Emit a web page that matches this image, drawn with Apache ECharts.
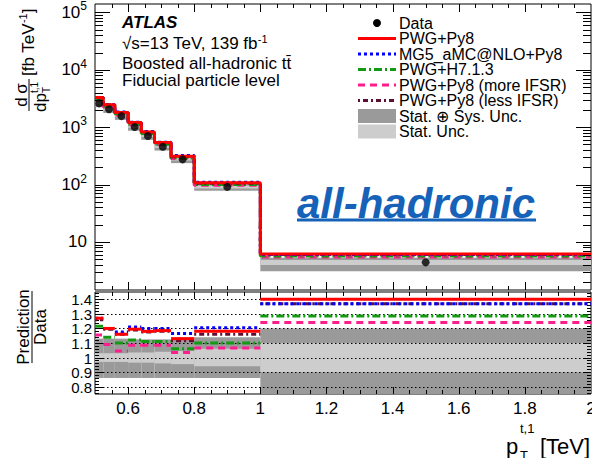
<!DOCTYPE html>
<html><head><meta charset="utf-8">
<script src="https://cdn.jsdelivr.net/npm/echarts@6/dist/echarts.min.js"></script>
<style>html,body{margin:0;padding:0;background:#fff}#c{width:592px;height:458px}</style>
</head><body><div id="c"></div>
<script>
// ---------------- data ----------------
const binEdges = [0.5, 0.525, 0.56, 0.6, 0.64, 0.68, 0.73, 0.8, 1.0, 2.0];
const dataValues = [2600, 2060, 1560, 1010, 700, 455, 275, 91, 4.4];
const ratioPWGPy8   = [1.27, 1.20, 1.16, 1.195, 1.18, 1.185, 1.13, 1.18, 1.40];
const ratioMG5      = [1.27, 1.20, 1.175, 1.21, 1.20, 1.20, 1.165, 1.205, 1.37];
const ratioPWGH7    = [1.215, 1.14, 1.10, 1.12, 1.11, 1.11, 1.06, 1.10, 1.285];
const ratioMoreIFSR = [1.155, 1.09, 1.045, 1.085, 1.085, 1.085, 1.035, 1.065, 1.24];
const ratioLessIFSR = [1.26, 1.195, 1.16, 1.19, 1.175, 1.18, 1.115, 1.16, 1.37];
const totUncUp   = [0.13, 0.13, 0.13, 0.125, 0.125, 0.125, 0.125, 0.14, 0.20];
const totUncDown = [0.14, 0.14, 0.14, 0.14, 0.14, 0.14, 0.14, 0.14, 0.30];
const statUnc    = [0.03, 0.03, 0.03, 0.035, 0.035, 0.04, 0.045, 0.06, 0.10];
const xTickValues = [0.6, 0.8, 1.0, 1.2, 1.4, 1.6, 1.8, 2.0];
const xTickLabels = ['0.6', '0.8', '1', '1.2', '1.4', '1.6', '1.8', '2'];
const yTickValues = [10, 100, 1000, 10000, 100000];
const yTickLabels = ['10', '10{sup|2}', '10{sup|3}', '10{sup|4}', '10{sup|5}'];
const ratioTickValues = [0.8, 0.9, 1.0, 1.1, 1.2, 1.3, 1.4];
const ratioTickLabels = ['0.8', '0.9', '1', '1.1', '1.2', '1.3', '1.4'];
const legendLabels = ['Data', 'PWG+Py8', 'MG5_aMC@NLO+Py8', 'PWG+H7.1.3',
  'PWG+Py8 (more IFSR)', 'PWG+Py8 (less IFSR)', 'Stat. \u2295 Sys. Unc.', 'Stat. Unc.'];

// ---------------- styling ----------------
const FONT = '"Liberation Sans", Arial, Helvetica, sans-serif';
const X_MIN = 0.5, X_MAX = 2.0;
const Y_MIN = 1.45, Y_MAX = 140600;
const R_MIN = 0.75, R_MAX = 1.45;
const DARK = '#9a9a9a', LIGHT = '#cdcdcd';

const models = [
  {ratio: ratioMoreIFSR, color: '#FF1C8D', dash: [7, 5]},
  {ratio: ratioPWGH7,    color: '#139A13', dash: [8, 3, 2, 3]},
  {ratio: ratioLessIFSR, color: '#5E0F33', dash: [2, 3, 5, 3]},
  {ratio: ratioMG5,      color: '#0000FF', dash: [3, 3]},
  {ratio: ratioPWGPy8,   color: '#FF0000', dash: null}
];

const nB = dataValues.length;
function stepPoints(ratio) {
  const pts = dataValues.map((d, i) => [binEdges[i], d * ratio[i]]);
  pts.push([binEdges[nB], dataValues[nB - 1] * ratio[nB - 1]]);
  return pts;
}
function lookup(vals, labels) {
  return function (v) {
    const i = vals.findIndex(t => Math.abs(t - v) <= 1e-6 * Math.abs(t));
    return i >= 0 ? labels[i] : '';
  };
}

function rectRender(color) {
  return function (params, api) {
    const p1 = api.coord([api.value(0), api.value(3)]);
    const p2 = api.coord([api.value(1), api.value(2)]);
    return {type: 'rect', shape: {x: p1[0], y: p1[1], width: p2[0] - p1[0], height: p2[1] - p1[1]},
      style: {fill: color}};
  };
}
function segRender(color, dash) {
  return function (params, api) {
    const p1 = api.coord([api.value(0), api.value(2)]);
    const p2 = api.coord([api.value(1), api.value(2)]);
    return {type: 'line', shape: {x1: p1[0], y1: p1[1], x2: p2[0], y2: p2[1]},
      style: {stroke: color, lineWidth: 3, lineDash: dash || null, fill: null}};
  };
}
function ln(x1, y1, x2, y2, extra) {
  return Object.assign({type: 'line', shape: {x1, y1, x2, y2},
    style: {stroke: '#000', lineWidth: 1}}, extra || {});
}
function xTickLines(api, yMin, yMax, majLen, minLen, out) {
  const yT = api.coord([X_MIN, yMax])[1], yB = api.coord([X_MIN, yMin])[1];
  for (let i = 11; i < 40; i++) {
    const v = i * 0.05;
    const x = Math.round(api.coord([v, yMin])[0]) + 0.5;
    const L = (i % 4 === 0) ? majLen : minLen;
    out.push(ln(x, yB, x, yB - L));
    out.push(ln(x, yT, x, yT + L));
  }
}
function upperTicks(params, api) {
  const out = [];
  const xl = api.coord([X_MIN, 10])[0], xr = api.coord([X_MAX, 10])[0];
  for (let j = 0; j <= 5; j++) {
    for (let k = 1; k <= 9; k++) {
      const v = k * Math.pow(10, j);
      if (v <= Y_MIN || v >= Y_MAX) continue;
      const y = Math.round(api.coord([1, v])[1]) + 0.5;
      const L = k === 1 ? 15 : 8;
      out.push(ln(xl, y, xl + L, y));
      out.push(ln(xr, y, xr - L, y));
    }
  }
  xTickLines(api, Y_MIN, Y_MAX, 8, 4, out);
  return {type: 'group', children: out};
}
function lowerTicks(params, api) {
  const out = [];
  const xl = api.coord([X_MIN, 1])[0], xr = api.coord([X_MAX, 1])[0];
  for (let i = 38; i <= 72; i++) {
    const v = i * 0.02;
    const y = Math.round(api.coord([1, v])[1]) + 0.5;
    const L = (i % 5 === 0) ? 8 : 4;
    out.push(ln(xl, y, xl + L, y));
    out.push(ln(xr, y, xr - L, y));
  }
  ratioTickValues.forEach((v, i) => {
    const y = Math.round(api.coord([1, v])[1]) + 0.5;
    out.push(ln(xl, y, xr, y, {style: {stroke: '#000', lineWidth: 1, lineDash: [1.5, 2.5]}}));
    out.push({type: 'text', x: xl - 3, y: y,
      style: {text: ratioTickLabels[i], fontSize: 15, lineHeight: 12, fontFamily: FONT, fill: '#000',
        align: 'right', verticalAlign: 'middle'}});
  });
  xTickLines(api, R_MIN, R_MAX, 7, 4, out);
  return {type: 'group', children: out};
}

const bandUpperTot = dataValues.map((d, i) => [binEdges[i], binEdges[i + 1], d * (1 - totUncDown[i]), d * (1 + totUncUp[i])]);
const bandUpperStat = dataValues.map((d, i) => [binEdges[i], binEdges[i + 1], d * (1 - statUnc[i]), d * (1 + statUnc[i])]);
const bandLowerTot = dataValues.map((d, i) => [binEdges[i], binEdges[i + 1], 1 - totUncDown[i], 1 + totUncUp[i]]);
const bandLowerStat = dataValues.map((d, i) => [binEdges[i], binEdges[i + 1], 1 - statUnc[i], 1 + statUnc[i]]);

const series = [
  {type: 'custom', xAxisIndex: 0, yAxisIndex: 0, data: bandUpperTot, renderItem: rectRender(DARK), z: 1, clip: true, silent: true},
  {type: 'custom', xAxisIndex: 0, yAxisIndex: 0, data: bandUpperStat, renderItem: rectRender(LIGHT), z: 2, clip: true, silent: true},
  {type: 'custom', xAxisIndex: 1, yAxisIndex: 1, data: bandLowerTot, renderItem: rectRender(DARK), z: 1, clip: true, silent: true},
  {type: 'custom', xAxisIndex: 1, yAxisIndex: 1, data: bandLowerStat, renderItem: rectRender(LIGHT), z: 2, clip: true, silent: true},
  {type: 'custom', xAxisIndex: 1, yAxisIndex: 1, data: [[1, 1]], renderItem: lowerTicks, z: 3, silent: true},
];
models.forEach((m, idx) => {
  series.push({type: 'line', xAxisIndex: 0, yAxisIndex: 0, step: 'end', showSymbol: false, silent: true,
    data: stepPoints(m.ratio), z: 4 + idx,
    lineStyle: {color: m.color, width: 3, type: m.dash || 'solid'}});
  series.push({type: 'custom', xAxisIndex: 1, yAxisIndex: 1, silent: true, z: 4 + idx,
    data: m.ratio.map((r, i) => [binEdges[i], binEdges[i + 1], r]),
    renderItem: segRender(m.color, m.dash)});
});
series.push({type: 'scatter', xAxisIndex: 0, yAxisIndex: 0, symbol: 'circle', symbolSize: 8, z: 12, silent: true,
  itemStyle: {color: '#000'},
  data: dataValues.map((d, i) => [(binEdges[i] + binEdges[i + 1]) / 2, d])});
series.push({type: 'custom', xAxisIndex: 0, yAxisIndex: 0, data: [[1, 10]], renderItem: upperTicks, z: 13, silent: true});

// ---------------- text / legend graphics ----------------
function txt(x, y, text, size, extra, styleExtra) {
  return Object.assign({type: 'text', x, y, z: 100,
    style: Object.assign({text, fontSize: size, fontFamily: FONT, fill: '#000', align: 'left', verticalAlign: 'middle'}, styleExtra || {})}, extra || {});
}
const supRich = s => ({sup: {fontSize: s, fontFamily: FONT, fill: '#000', verticalAlign: 'top', lineHeight: s + 1}});
const graphics = [
  txt(122, 22, 'ATLAS', 17, null, {fontWeight: 'bold', fontStyle: 'italic', lineHeight: 15}),
  txt(122, 43, '\u221As=13 TeV, 139 fb{sup|-1}', 17, null, {rich: supRich(11), lineHeight: 20}),
  txt(122, 63, 'Boosted all-hadronic tt\u0304', 17, null, {lineHeight: 15}),
  txt(122, 80, 'Fiducial particle level', 17, null, {lineHeight: 15}),
  txt(297, 203, 'all-hadronic', 42, null, {fontWeight: 'bold', fontStyle: 'italic', fill: '#1662B8'}),
  {type: 'line', z: 100, shape: {x1: 297, y1: 220, x2: 536, y2: 220}, style: {stroke: '#1662B8', lineWidth: 3}}
];
const legY = [23, 38.5, 54, 69.5, 85, 100.5, 116, 131.5];
legendLabels.forEach((t, i) => graphics.push(txt(399, legY[i], t, 16, null, {lineHeight: 15})));
graphics.push({type: 'circle', z: 100, shape: {cx: 377, cy: legY[0], r: 4}, style: {fill: '#000'}});
const legModels = [models[4], models[3], models[1], models[0], models[2]];
legModels.forEach((m, i) => graphics.push({type: 'line', z: 100,
  shape: {x1: 358, y1: legY[i + 1], x2: 396, y2: legY[i + 1]},
  style: {stroke: m.color, lineWidth: 3, lineDash: m.dash || null}}));
graphics.push({type: 'rect', z: 100, shape: {x: 358, y: legY[6] - 7, width: 38, height: 14}, style: {fill: DARK}});
graphics.push({type: 'rect', z: 100, shape: {x: 358, y: legY[7] - 7, width: 38, height: 14}, style: {fill: LIGHT}});

// y title (upper), rotated
graphics.push({type: 'group', x: 29, y: 95, rotation: Math.PI / 2, z: 100, children: [
  txt(0, -8, 'd\u2009\u03C3', 17, null, {align: 'center'}),
  {type: 'line', shape: {x1: -16, y1: 0, x2: 16, y2: 0}, style: {stroke: '#000', lineWidth: 1}},
  txt(-17, 11, 'dp', 17),
  txt(2, 17, 'T', 10),
  txt(2, 5, 't,1', 10),
  txt(19, -1, '[fb TeV{sup|-1}]', 17, null, {rich: supRich(11), lineHeight: 22})
]});
// y title (lower), rotated
graphics.push({type: 'group', x: 32, y: 327, rotation: Math.PI / 2, z: 100, children: [
  txt(0, -8.5, 'Prediction', 17, null, {align: 'center'}),
  {type: 'line', shape: {x1: -36, y1: 0, x2: 36, y2: 0}, style: {stroke: '#000', lineWidth: 1}},
  txt(0, 8.5, 'Data', 17, null, {align: 'center'})
]});
// x title
graphics.push(txt(506, 446, 'p', 22));
graphics.push(txt(520, 428, 't,1', 13));
graphics.push(txt(520, 455, 'T', 13, null, {lineHeight: 12}));
graphics.push(txt(540, 446, '[TeV]', 22));

const chart = echarts.init(document.getElementById('c'), null, {renderer: 'svg', width: 592, height: 458});
chart.setOption({
  animation: false,
  backgroundColor: '#fff',
  grid: [
    {left: 95, top: 4, width: 496, height: 286, show: true, borderColor: '#000', borderWidth: 1, backgroundColor: 'transparent', containLabel: false, outerBoundsMode: 'none'},
    {left: 95, top: 292, width: 496, height: 102, show: true, borderColor: '#000', borderWidth: 1, backgroundColor: 'transparent', containLabel: false, outerBoundsMode: 'none'}
  ],
  xAxis: [
    {gridIndex: 0, type: 'value', min: X_MIN, max: X_MAX, axisLine: {show: false}, axisTick: {show: false},
      axisLabel: {show: false}, splitLine: {show: false}},
    {gridIndex: 1, type: 'value', min: X_MIN, max: X_MAX, axisLine: {show: false}, axisTick: {show: false},
      splitLine: {show: false},
      axisLabel: {show: true, customValues: xTickValues, formatter: lookup(xTickValues, xTickLabels),
        fontSize: 17, fontFamily: FONT, color: '#000', margin: 6, showMinLabel: true, showMaxLabel: true, hideOverlap: false}}
  ],
  yAxis: [
    {gridIndex: 0, type: 'log', logBase: 10, min: Y_MIN, max: Y_MAX, axisLine: {show: false}, axisTick: {show: false},
      splitLine: {show: false},
      axisLabel: {show: true, customValues: yTickValues, formatter: lookup(yTickValues, yTickLabels),
        fontSize: 17, fontFamily: FONT, color: '#000', margin: 8, lineHeight: 24,
        showMinLabel: true, showMaxLabel: true,
        rich: {sup: {fontSize: 12, fontFamily: FONT, color: '#000', verticalAlign: 'top', lineHeight: 13}}}},
    {gridIndex: 1, type: 'value', min: R_MIN, max: R_MAX, axisLine: {show: false}, axisTick: {show: false},
      splitLine: {show: false}, axisLabel: {show: false}}
  ],
  series: series,
  graphic: graphics
});
</script>
</body></html>
